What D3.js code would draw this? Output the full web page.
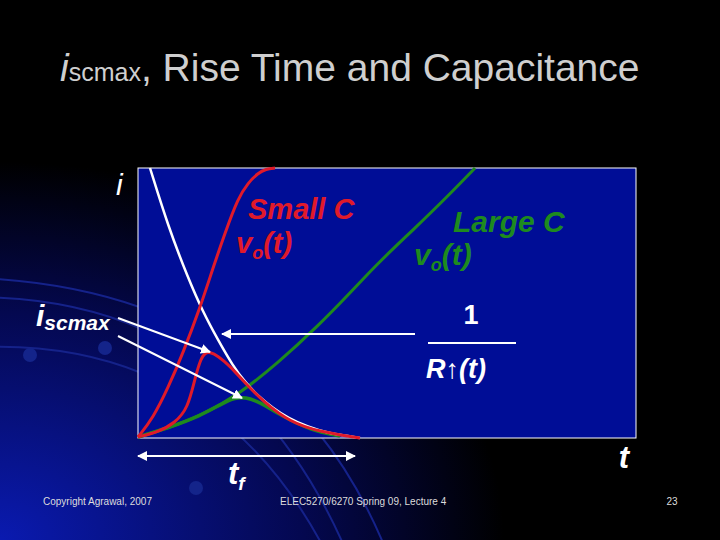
<!DOCTYPE html>
<html><head><meta charset="utf-8">
<script src="https://cdn.jsdelivr.net/npm/d3@7"></script>
<style>body{margin:0;background:#000}svg{display:block}</style>
</head><body>
<svg id="c" width="720" height="540"></svg>
<script>
// time (0..498) and amplitude (0..270)
var tWhite = [12, 30, 50, 65, 80, 95, 107, 120, 135, 150, 170, 190, 210, 222];
var yWhite = [270, 212, 160, 126, 98, 72, 56, 42, 30, 20, 11, 5, 2, 0];
var tRedV = [0, 15, 30, 45, 62, 75, 87, 100, 110, 120, 128, 137];
var yRedV = [1, 20, 50, 85, 130, 170, 205, 240, 255, 265, 269, 270];
var tRedI = [0, 20, 37, 50, 57, 63, 67, 72, 80, 92, 107, 127, 152, 182, 222];
var yRedI = [1, 6, 15, 30, 60, 80, 85, 86, 82, 72, 55, 35, 16, 6, 0];
var tGreenV = [0, 30, 62, 100, 140, 180, 212, 240, 275, 310, 337];
var yGreenV = [1, 10, 22, 43, 75, 112, 145, 175, 208, 242, 270];
var tGreenI = [0, 30, 62, 85, 97, 107, 122, 142, 172, 202];
var yGreenI = [1, 10, 22, 35, 40, 41, 36, 23, 8, 2];

var svg = d3.select("#c");
var defs = svg.append("defs");
var rg = defs.append("radialGradient").attr("id", "bg").attr("cx", "0").attr("cy", "1").attr("r", "0.7");
rg.append("stop").attr("offset", "0").attr("stop-color", "#0a1ab0");
rg.append("stop").attr("offset", "0.6").attr("stop-color", "#040850");
rg.append("stop").attr("offset", "1").attr("stop-color", "#000");
svg.append("rect").attr("width", 720).attr("height", 540).attr("fill", "url(#bg)");

// decorative arcs
[[-60, 280, 330], [-80, 230, 350], [-120, 210, 390]].forEach(function(a) {
    svg.append("path")
        .attr("d", "M" + a[0] + "," + (a[1] + 70) + " Q" + (a[2] - 120) + "," + (a[1] + 40) + " " + a[2] + "," + 560)
        .attr("fill", "none").attr("stroke", "#15228a").attr("stroke-width", 2);
});
[[30, 355], [105, 348], [196, 488]].forEach(function(p) {
    svg.append("circle").attr("cx", p[0]).attr("cy", p[1]).attr("r", 7).attr("fill", "#14248a");
});

var x = d3.scaleLinear().domain([0, 498]).range([138, 636]);
var y = d3.scaleLinear().domain([0, 270]).range([438, 168]);

svg.append("rect").attr("x", x(0)).attr("y", y(270)).attr("width", x(498) - x(0)).attr("height", y(0) - y(270))
    .attr("fill", "#000d96").attr("stroke", "#fff").attr("stroke-width", 1);

var line = d3.line().x(function(d) { return x(d[0]); }).y(function(d) { return y(d[1]); }).curve(d3.curveBasis);
function curve(ts, ys, col, w) {
    svg.append("path").datum(d3.zip(ts, ys)).attr("d", line)
        .attr("fill", "none").attr("stroke", col).attr("stroke-width", w);
}
curve(tGreenI, yGreenI, "#1e8a1e", 3.5);
curve(tGreenV, yGreenV, "#1e8a1e", 3);
curve(tWhite, yWhite, "#fff", 2.5);
curve(tRedV, yRedV, "#e01a2a", 3);
curve(tRedI, yRedI, "#e01a2a", 3);

// arrows
var mk = defs.append("marker").attr("id", "ah").attr("viewBox", "0 0 10 10").attr("refX", 9).attr("refY", 5)
    .attr("markerWidth", 5).attr("markerHeight", 5).attr("orient", "auto-start-reverse");
mk.append("path").attr("d", "M0,0L10,5L0,10z").attr("fill", "#fff");
function arrow(x1, y1, x2, y2, both) {
    var l = svg.append("line").attr("x1", x1).attr("y1", y1).attr("x2", x2).attr("y2", y2)
        .attr("stroke", "#fff").attr("stroke-width", 2).attr("marker-end", "url(#ah)");
    if (both) l.attr("marker-start", "url(#ah)");
}
arrow(118, 318, x(72), y(86));
arrow(118, 336, x(104), y(40));
arrow(415, 334, 222, 334);
arrow(138, 456, 355, 456, true);
svg.append("line").attr("x1", 428).attr("x2", 516).attr("y1", 343).attr("y2", 343).attr("stroke", "#fff").attr("stroke-width", 2);

function txt(xx, yy, s, size, col, opts) {
    var t = svg.append("text").attr("x", xx).attr("y", yy).attr("fill", col)
        .attr("font-family", "Liberation Sans, Arial, sans-serif").attr("font-size", size);
    if (s) t.append("tspan").text(s);
    if (opts && opts.it) t.attr("font-style", "italic");
    if (opts && opts.b) t.attr("font-weight", "bold");
    if (opts && opts.anchor) t.attr("text-anchor", opts.anchor);
    return t;
}
var ti = txt(60, 81, "", 39, "#cfcfcf");
ti.append("tspan").attr("font-style", "italic").text("i");
ti.append("tspan").attr("font-size", 25).text("scmax");
ti.append("tspan").text(", Rise Time and Capacitance");

txt(116, 195, "i", 30, "#fff", { it: true });
var isc = txt(36, 326, "i", 30, "#fff", { it: true, b: true });
isc.append("tspan").attr("font-size", 21).attr("dy", 4).text("scmax");

txt(248, 219, "Small C", 29, "#e01a2a", { it: true, b: true });
var vo1 = txt(236, 253, "v", 29, "#e01a2a", { it: true, b: true });
vo1.append("tspan").attr("font-size", 18).attr("dy", 6).text("o");
vo1.append("tspan").attr("dy", -6).text("(t)");
txt(453, 232, "Large C", 30, "#1e8a1e", { it: true, b: true });
var vo2 = txt(414, 265, "v", 30, "#1e8a1e", { it: true, b: true });
vo2.append("tspan").attr("font-size", 18).attr("dy", 6).text("o");
vo2.append("tspan").attr("dy", -6).text("(t)");

txt(471, 324, "1", 27, "#fff", { b: true, anchor: "middle" });
txt(426, 378, "R↑(t)", 27, "#fff", { it: true, b: true });
txt(624, 468, "t", 31, "#fff", { it: true, b: true, anchor: "middle" });
var tf = txt(228, 484, "t", 31, "#fff", { it: true, b: true });
tf.append("tspan").attr("font-size", 19).attr("dy", 6).text("f");

txt(43, 505, "Copyright Agrawal, 2007", 10, "#ddd");
txt(280, 505, "ELEC5270/6270 Spring 09, Lecture 4", 10, "#ddd");
txt(672, 505, "23", 10, "#ddd", { anchor: "middle" });
</script>
</body></html>
